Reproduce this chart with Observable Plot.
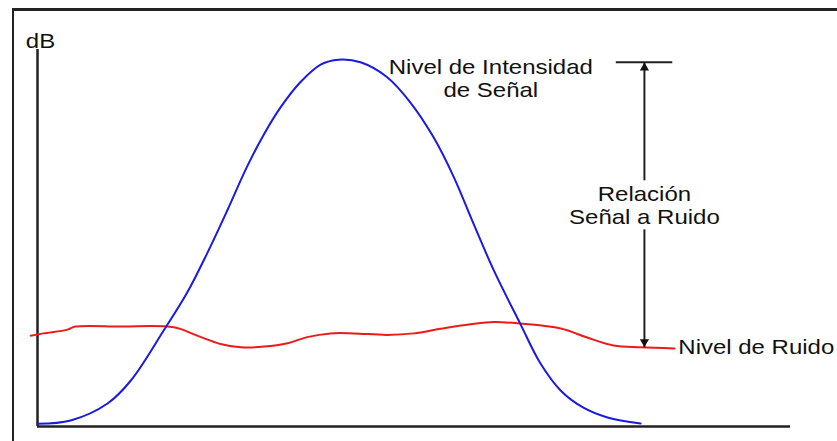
<!DOCTYPE html>
<html>
<head>
<meta charset="utf-8">
<script src="https://cdn.jsdelivr.net/npm/d3@7"></script>
<script src="https://cdn.jsdelivr.net/npm/@observablehq/plot@0.6"></script>
<style>
  html, body { margin: 0; padding: 0; background: #fff; overflow: hidden; }
  #wrap { position: relative; width: 837px; height: 441px; }
  #border { position: absolute; left: 12px; top: 8px; width: 900px; height: 500px;
            border-top: 3px solid #222; border-left: 2px solid #222; box-sizing: border-box; }
  #chart { position: absolute; left: 0; top: 0; }
</style>
</head>
<body>
<div id="wrap"><div id="border"></div><div id="chart"></div></div>
<script>
// Signal (blue bell curve), arbitrary frequency units vs dB level
const signalX = [0, 4.4, 9.3, 12.4, 16.8, 19.9, 22.5, 25.2, 27.8, 30.1, 32.3, 34.9, 37.6, 40.0, 42.9, 46.4, 49.5, 52.6, 55.3, 57.9, 60.6, 64.1, 66.8, 69.5, 72.5, 75.7, 80.1];
const signalY = [0.7, 1.6, 6.1, 12.2, 25.6, 35.6, 45.8, 57.3, 68.8, 77.6, 84.7, 91.3, 96.0, 97.3, 96.6, 92.7, 86.0, 76.7, 66.1, 53.8, 41.4, 27.3, 16.7, 9.5, 5.0, 2.4, 0.8];

// Noise floor (red line)
const noiseX = [-0.9, 0.8, 4.0, 5.0, 11.0, 18.1, 21.2, 24.3, 27.0, 30.1, 33.2, 35.8, 38.9, 42.0, 46.4, 50.0, 53.5, 57.5, 60.6, 64.1, 69.5, 73.0, 76.5, 80.1, 84.6];
const noiseY = [24.1, 24.7, 25.7, 26.5, 26.5, 26.3, 24.1, 21.9, 21.0, 21.2, 22.1, 23.7, 24.7, 24.7, 24.3, 24.7, 25.9, 27.1, 27.7, 27.3, 26.0, 23.6, 21.5, 21.0, 20.7];

// Annotation levels
const signalLevel = 96.6;
const noiseLevel = 21.0;
const arrowX = 80.6;
const barX = [76.8, 84.3];
const shaftGap = [65.3, 52.3]; // where the arrow is interrupted by the label

// Labels
const labelText = ["dB", "Nivel de Intensidad\nde Señal", "Relación\nSeñal a Ruido", "Nivel de Ruido"];
const labelX = [0.4, 60.2, 80.6, 85.1];
const labelY = [100.3, 87.5, 53.8, 19.1];
const labelAnchor = ["middle", "middle", "middle", "start"];

const signal = signalX.map((x, i) => ({x, y: signalY[i]}));
const noise = noiseX.map((x, i) => ({x, y: noiseY[i]}));
const labels = labelText.map((t, i) => ({t, x: labelX[i], y: labelY[i], a: labelAnchor[i]}));

const font = "Liberation Sans, Arial, Helvetica, sans-serif";

const chart = Plot.plot({
  width: 837,
  height: 441,
  marginLeft: 37,
  marginRight: 47,
  marginTop: 49,
  marginBottom: 15,
  x: {domain: [0, 100], axis: null},
  y: {domain: [0, 100], axis: null},
  style: {fontFamily: font, background: "transparent", overflow: "visible"},
  marks: [
    Plot.ruleX([0], {stroke: "#222", strokeWidth: 2.5}),
    Plot.ruleY([0], {stroke: "#222", strokeWidth: 2.5}),
    Plot.line(noise, {x: "x", y: "y", stroke: "#ee1a1a", strokeWidth: 2, curve: "catmull-rom"}),
    Plot.line(signal, {x: "x", y: "y", stroke: "#1a1ae0", strokeWidth: 2, curve: "catmull-rom"}),
    // signal level bar
    Plot.link([{x1: barX[0], x2: barX[1], y: signalLevel}], {x1: "x1", x2: "x2", y1: "y", y2: "y", stroke: "#222", strokeWidth: 2}),
    // arrow shafts
    Plot.link([{y1: shaftGap[0], y2: signalLevel}, {y1: shaftGap[1], y2: noiseLevel}],
      {x1: arrowX, x2: arrowX, y1: "y1", y2: "y2", stroke: "#222", strokeWidth: 2}),
    // arrow heads
    Plot.dot([{y: signalLevel}], {x: arrowX, y: "y", symbol: "triangle", r: 3.4, fill: "#111", stroke: null, dy: 5.5}),
    Plot.dot([{y: noiseLevel}], {x: arrowX, y: "y", symbol: "triangle", r: 3.4, fill: "#111", stroke: null, rotate: 180, dy: -5.5}),
    // labels
    Plot.text(labels.filter(d => d.a === "middle"), {x: "x", y: "y", text: "t", textAnchor: "middle", lineAnchor: "bottom", lineHeight: 1.14, fontSize: 20, fill: "#111"}),
    Plot.text(labels.filter(d => d.a === "start"), {x: "x", y: "y", text: "t", textAnchor: "start", lineAnchor: "bottom", fontSize: 20, fill: "#111"})
  ]
});

// The source picture is stretched horizontally: widen glyphs about each label's anchor
d3.select(chart).selectAll("g[aria-label='text'] text").each(function () {
  const t = this.getAttribute("transform") || "";
  this.setAttribute("transform", t + " scale(1.2,1)");
});

document.getElementById("chart").appendChild(chart);
</script>
</body>
</html>
